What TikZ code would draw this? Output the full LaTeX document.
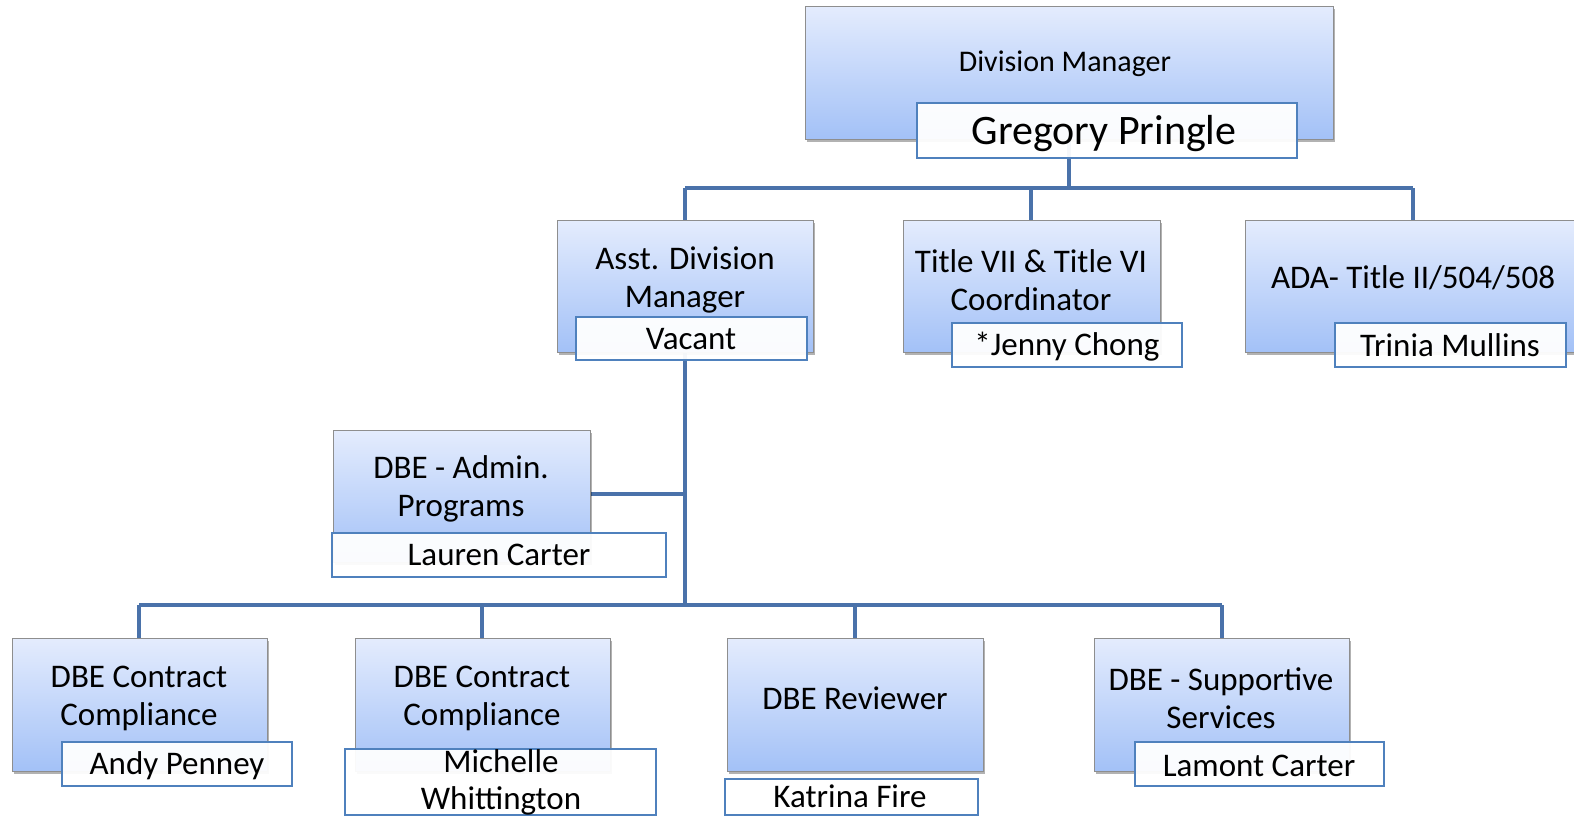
\documentclass[tikz,border=0pt]{standalone}
\usepackage{fontspec}
\setmainfont{Carlito}
\usetikzlibrary{shadows}
\definecolor{boxtop}{HTML}{E4ECFD}
\definecolor{boxbot}{HTML}{A3C1F7}
\definecolor{boxline}{HTML}{8E8E8E}
\definecolor{nameline}{HTML}{4F81BD}
\definecolor{conncol}{HTML}{4A72AA}
\tikzset{
  rolebox/.style={draw=boxline, line width=0.9pt, top color=boxtop, bottom color=boxbot,
    anchor=north west, inner sep=0pt, outer sep=0pt,
    drop shadow={shadow xshift=2pt, shadow yshift=-3pt, opacity=0.3, fill=black}},
  namebox/.style={draw=nameline, line width=1.3pt, fill=white, fill opacity=0.95, text opacity=1,
    anchor=north west, inner sep=0pt, outer sep=0pt},
  ttl/.style={font=\fontsize{33}{38}\selectfont, align=center, inner sep=0pt},
  nm/.style={font=\fontsize{33}{37}\selectfont, align=center, inner sep=0pt},
  conn/.style={draw=conncol, line width=4pt},
}
\begin{document}
\begin{tikzpicture}[x=1pt,y=-1pt]
\useasboundingbox (0,0) rectangle (1574,815);
% coordinates for junctions
\coordinate (j0) at (1069,188);
\coordinate (j1) at (685,605);
\coordinate (ja) at (685,494);
% connectors (drawn first, behind boxes)
\draw[conn] (1069,139) -- (j0);
\draw[conn] (685,188) -- (1413,188);
\draw[conn] (685,188) -- (685,220);
\draw[conn] (1031,188) -- (1031,220);
\draw[conn] (1413,188) -- (1413,220);
\draw[conn] (685,352) -- (j1);
\draw[conn] (ja) -- (590,494);
\draw[conn] (139,605) -- (1222,605);
\draw[conn] (139,605) -- (139,638);
\draw[conn] (482,605) -- (482,638);
\draw[conn] (855,605) -- (855,638);
\draw[conn] (1222,605) -- (1222,638);
% top
\node[rolebox, minimum width=528pt, minimum height=133pt] (dm) at (805,6) {};
\node[ttl, font=\fontsize{30}{34}\selectfont] (dmt) at (1065,64) {Division Manager};
\node[namebox, minimum width=380pt, minimum height=55pt] (gp) at (917,103) {};
\node[nm, font=\fontsize{42}{46}\selectfont] (gpt) at (1104,134) {Gregory Pringle};
% level 2
\node[rolebox, minimum width=256pt, minimum height=132pt] (asst) at (557,220) {};
\node[ttl] (asstt) at (685,280) {Asst. Division\\Manager};
\node[namebox, minimum width=231pt, minimum height=43pt] (vac) at (576,317) {};
\node[nm] (vact) at (691,339) {Vacant};
\node[rolebox, minimum width=257pt, minimum height=132pt] (t7) at (903,220) {};
\node[ttl] (t7t) at (1031,280) {Title VII \& Title VI\\Coordinator};
\node[namebox, minimum width=230pt, minimum height=44pt] (jc) at (952,323) {};
\node[nm] (jct) at (1067,347) {*Jenny Chong};
\node[rolebox, minimum width=336pt, minimum height=132pt] (ada) at (1245,220) {};
\node[ttl] (adat) at (1413,278) {ADA- Title II/504/508};
\node[namebox, minimum width=231pt, minimum height=44pt] (tm) at (1335,323) {};
\node[nm] (tmt) at (1450,345) {Trinia Mullins};
% admin
\node[rolebox, minimum width=257pt, minimum height=132pt] (adm) at (333,430) {};
\node[ttl] (admt) at (461,489) {DBE - Admin.\\Programs};
\node[namebox, minimum width=334pt, minimum height=44pt] (lc) at (332,533) {};
\node[nm] (lct) at (499,555) {Lauren Carter};
% bottom row
\node[rolebox, minimum width=255pt, minimum height=133pt] (b1) at (12,638) {};
\node[ttl] (b1t) at (139,698) {DBE Contract\\Compliance};
\node[namebox, minimum width=230pt, minimum height=44pt] (ap) at (62,742) {};
\node[nm] (apt) at (177,766) {Andy Penney};
\node[rolebox, minimum width=255pt, minimum height=133pt] (b2) at (355,638) {};
\node[ttl] (b2t) at (482,698) {DBE Contract\\Compliance};
\node[namebox, minimum width=311pt, minimum height=66pt] (mw) at (345,749) {};
\node[nm] (mwt) at (501,782) {Michelle\\Whittington};
\node[rolebox, minimum width=256pt, minimum height=133pt] (b3) at (727,638) {};
\node[ttl] (b3t) at (855,698) {DBE Reviewer};
\node[namebox, minimum width=253pt, minimum height=36pt] (kf) at (725,779) {};
\node[nm] (kft) at (850,796) {Katrina Fire};
\node[rolebox, minimum width=255pt, minimum height=133pt] (b4) at (1094,638) {};
\node[ttl] (b4t) at (1221,698) {DBE - Supportive\\Services};
\node[namebox, minimum width=249pt, minimum height=44pt] (lm) at (1135,742) {};
\node[nm] (lmt) at (1259,766) {Lamont Carter};
\end{tikzpicture}
\end{document}
